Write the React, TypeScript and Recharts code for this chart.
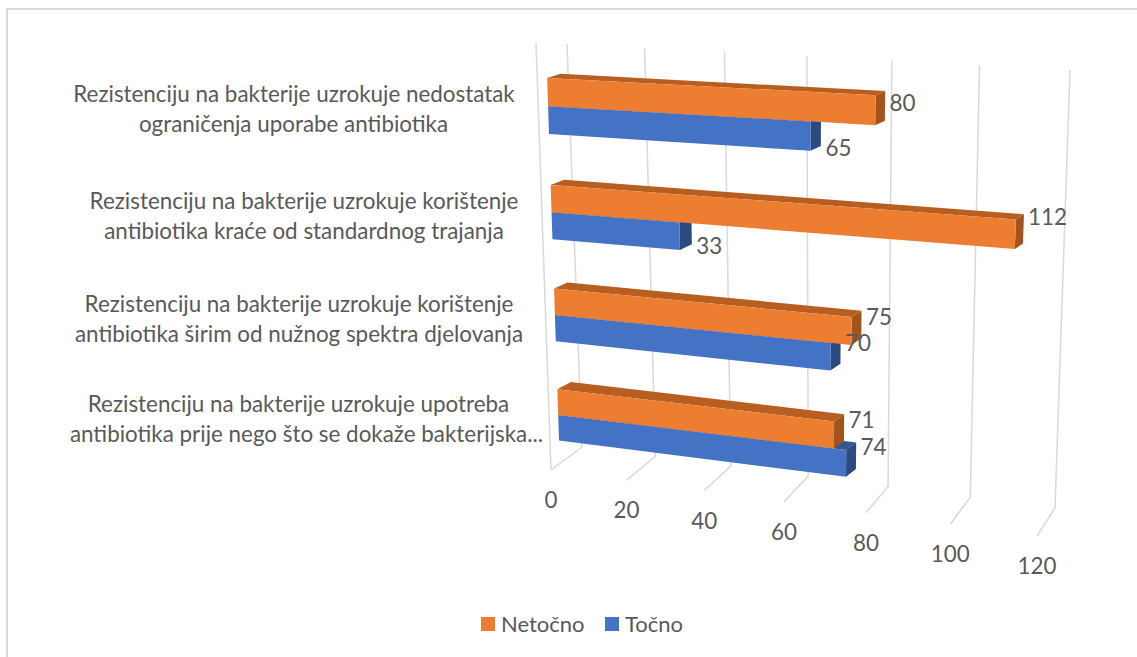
import { BarChart, Bar, XAxis, YAxis, Legend, LabelList, CartesianGrid } from "recharts";

const categoryLines = [
  ["Rezistenciju na bakterije uzrokuje nedostatak", "ograničenja uporabe antibiotika"],
  ["Rezistenciju na bakterije uzrokuje korištenje", "antibiotika kraće od standardnog trajanja"],
  ["Rezistenciju na bakterije uzrokuje korištenje", "antibiotika širim od nužnog spektra djelovanja"],
  ["Rezistenciju na bakterije uzrokuje upotreba", "antibiotika prije nego što se dokaže bakterijska..."],
];
const netocno = [80, 112, 75, 71];
const tocno = [65, 33, 70, 74];
const valueTicks = [0, 20, 40, 60, 80, 100, 120];

const data = categoryLines.map((lines, i) => ({
  name: lines.join(" "),
  Netočno: netocno[i],
  Točno: tocno[i],
}));

// flat rectangle recharts lays out in, gets projected onto the tilted planes below
const PLOT = { x: 540, y: 60, w: 500, h: 400 };
const BAR_SIZE = 26;
const TEXT = "#595959";
const FONT = "Lato, sans-serif";

type Pt = [number, number];

// unit square -> quad (tl, tr, br, bl)
function projector([p0, p1, p2, p3]: Pt[]) {
  const dx1 = p1[0] - p2[0];
  const dx2 = p3[0] - p2[0];
  const sx = p0[0] - p1[0] + p2[0] - p3[0];
  const dy1 = p1[1] - p2[1];
  const dy2 = p3[1] - p2[1];
  const sy = p0[1] - p1[1] + p2[1] - p3[1];
  const det = dx1 * dy2 - dx2 * dy1;
  const g = (sx * dy2 - dx2 * sy) / det;
  const h = (dx1 * sy - sx * dy1) / det;
  const a = p1[0] - p0[0] + g * p1[0];
  const b = p3[0] - p0[0] + h * p3[0];
  const d = p1[1] - p0[1] + g * p1[1];
  const e = p3[1] - p0[1] + h * p3[1];
  return (u: number, v: number): Pt => {
    const w = g * u + h * v + 1;
    return [(a * u + b * v + p0[0]) / w, (d * u + e * v + p0[1]) / w];
  };
}

const barPlane = projector([[546.3, 52], [1058, 76.1], [1041, 527], [559.8, 464]]);
const backWall = projector([[567, 44], [1070, 70], [1055, 508], [582, 447]]);
const frontEdge = projector([[536, 43], [1053, 74], [1037, 536], [551, 470]]);

const toU = (x: number) => (x - PLOT.x) / PLOT.w;
const toV = (y: number) => (y - PLOT.y) / PLOT.h;
const depth = (u: number, v: number): Pt => [13.5 - 5.8 * u, 4 + 4 * v];
const poly = (pts: Pt[]) => pts.map((p) => p.join(",")).join(" ");

function Bar3D({ x, y, width, height, fill, sideFill, topFill }: any) {
  const u0 = toU(x);
  const u1 = toU(x + width);
  const v0 = toV(y);
  const v1 = toV(y + height);
  const tl = barPlane(u0, v0);
  const tr = barPlane(u1, v0);
  const br = barPlane(u1, v1);
  const bl = barPlane(u0, v1);
  const back = (p: Pt, u: number, v: number): Pt => {
    const [dx, dy] = depth(u, v);
    return [p[0] + dx, p[1] - dy];
  };
  return (
    <g>
      <polygon points={poly([tl, tr, back(tr, u1, v0), back(tl, u0, v0)])} fill={topFill} />
      <polygon points={poly([tr, br, back(br, u1, v1), back(tr, u1, v0)])} fill={sideFill} />
      <polygon points={poly([tl, tr, br, bl])} fill={fill} />
    </g>
  );
}

// one vertical of the grid: up the back wall and forward along the floor
function GridLine({ x1 }: any) {
  const u = toU(x1);
  const front = frontEdge(u, 1);
  const style = { stroke: "#D9D9D9", strokeWidth: 1.5, fill: "none" };
  return (
    <g>
      <polyline points={poly([backWall(u, 0), backWall(u, 1), front])} {...style} />
      {u < 0.001 && <polyline points={poly([frontEdge(0, 0), front])} {...style} />}
    </g>
  );
}

function ValueTick({ x, payload }: any) {
  const front = frontEdge(toU(x), 1);
  return (
    <text x={front[0]} y={front[1] + 38} textAnchor="middle" fill={TEXT} fontFamily={FONT} fontSize={22.4}>
      {payload.value}
    </text>
  );
}

const labelCentres = [
  [294, 293.5],
  [304, 304],
  [299, 299],
  [298.5, 306.5],
];

function CategoryTick({ index }: any) {
  const lines = categoryLines[index];
  const top = [102, 209, 312, 412][index];
  return (
    <text textAnchor="middle" fill={TEXT} fontFamily={FONT} fontSize={22.4}>
      {lines.map((line, i) => (
        <tspan key={i} x={labelCentres[index][i]} y={top + i * 30}>
          {line}
        </tspan>
      ))}
    </text>
  );
}

const orangeNudge = [-7, -17, -14, -15];
const blueNudge = [12, 10, -14, -16];

// both series are labelled from the top bar so the numbers sit above every bar
function ValueLabels({ x, y, width, height, index }: any) {
  const perUnit = width / netocno[index];
  const item = (value: number, top: number, nudge: number) => {
    const u = toU(x + value * perUnit);
    const v = toV(top + height / 2);
    const [px, py] = barPlane(u, v);
    return (
      <text
        key={top}
        x={px + depth(u, v)[0] + 4.5}
        y={py + nudge + 8}
        fill={TEXT}
        fontFamily={FONT}
        fontSize={22.4}
      >
        {value}
      </text>
    );
  };
  return (
    <g>
      {item(netocno[index], y, orangeNudge[index])}
      {item(tocno[index], y + height, blueNudge[index])}
    </g>
  );
}

function LegendRow({ payload }: any) {
  return (
    <div
      style={{
        position: "absolute",
        left: 481,
        top: 611,
        display: "flex",
        fontFamily: FONT,
        fontSize: 22,
        color: TEXT,
        lineHeight: "26px",
        whiteSpace: "nowrap",
      }}
    >
      {(payload ?? []).map((item: any) => (
        <span key={item.value} style={{ display: "flex", alignItems: "center", marginRight: 20.5 }}>
          <span style={{ width: 14, height: 14, background: item.color, marginRight: 6 }} />
          {item.value}
        </span>
      ))}
    </div>
  );
}

export default function App() {
  return (
    <div
      style={{
        position: "absolute",
        left: 0,
        top: 0,
        width: 1137,
        height: 657,
        background: "#fff",
        overflow: "hidden",
      }}
    >
      <div
        style={{
          position: "absolute",
          left: 6,
          top: 8,
          right: 0,
          bottom: 0,
          borderTop: "2.5px solid #D9D9D9",
          borderLeft: "2.5px solid #D9D9D9",
        }}
      />
      <BarChart
        width={1137}
        height={657}
        data={data}
        layout="vertical"
        barSize={BAR_SIZE}
        barGap={-2 * BAR_SIZE}
        margin={{
          left: PLOT.x - 1,
          top: PLOT.y,
          right: 1137 - PLOT.x - PLOT.w,
          bottom: 657 - PLOT.y - PLOT.h - 1,
        }}
      >
        <CartesianGrid horizontal={false} vertical={<GridLine />} />
        <XAxis
          type="number"
          domain={[0, 120]}
          ticks={valueTicks}
          interval={0}
          height={1}
          axisLine={false}
          tickLine={false}
          tick={<ValueTick />}
        />
        <YAxis
          type="category"
          dataKey="name"
          width={1}
          interval={0}
          axisLine={false}
          tickLine={false}
          tick={<CategoryTick />}
        />
        <Legend content={<LegendRow />} wrapperStyle={{ left: 0, top: 0, bottom: "auto", width: 0, height: 0 }} />
        <Bar
          dataKey="Točno"
          fill="#4472C4"
          isAnimationActive={false}
          shape={<Bar3D sideFill="#2A4A82" topFill="#335695" />}
        />
        <Bar
          dataKey="Netočno"
          fill="#ED7D31"
          isAnimationActive={false}
          shape={<Bar3D sideFill="#A3541C" topFill="#B85E20" />}
        >
          <LabelList dataKey="Netočno" content={<ValueLabels />} />
        </Bar>
      </BarChart>
    </div>
  );
}
